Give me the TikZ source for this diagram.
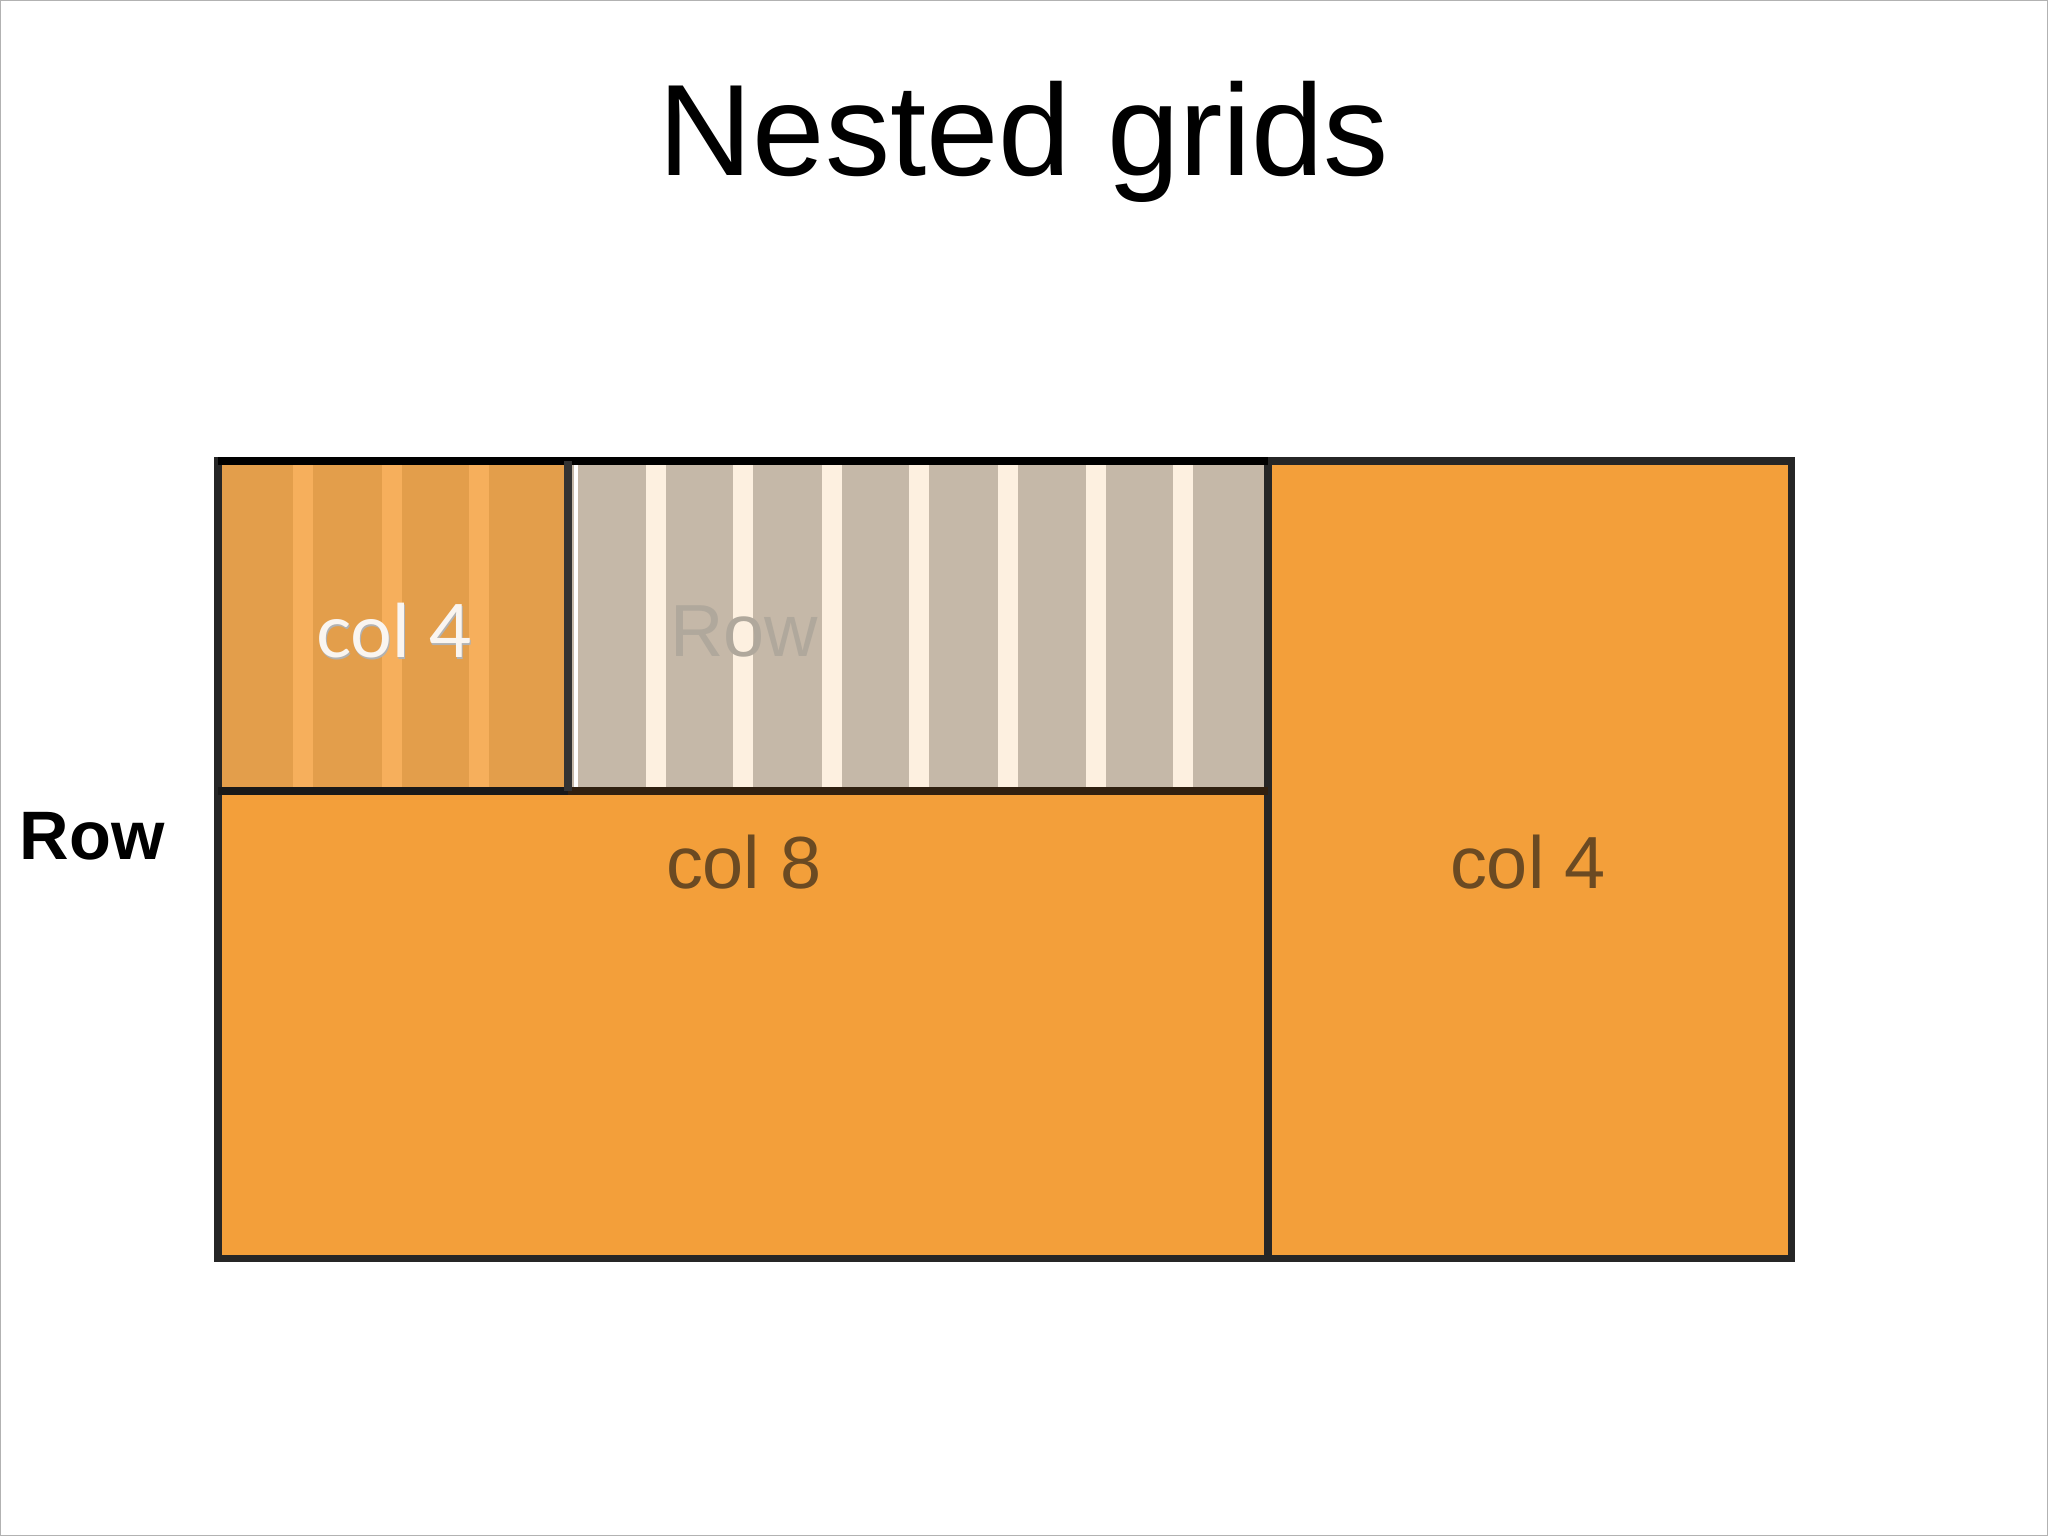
\documentclass[tikz,border=0pt]{standalone}
\usepackage{fontspec}
\setmainfont{Liberation Sans}
\newfontfamily\latofont{Lato}
\definecolor{org}{HTML}{F39F3A}
\definecolor{orgdark}{HTML}{E39E4B}
\definecolor{orglight}{HTML}{F6AF5C}
\definecolor{graybox}{HTML}{C5B8A8}
\definecolor{graystripe}{HTML}{FDF0E0}
\definecolor{txtbrown}{HTML}{6B4A22}
\definecolor{rowgray}{HTML}{B0A89C}
\begin{document}
\begin{tikzpicture}[x=0.01cm,y=-0.01cm,
  frame/.style={draw=black!85,line width=2pt},
  lbl/.style={font=\fontsize{21}{24}\selectfont, text=txtbrown}]
\useasboundingbox (0,0) rectangle (2048,1536);
\draw[gray!60,line width=0.6pt] (0,0) rectangle (2048,1536);
\node (title) at (1024,142) {\fontsize{37}{42}\selectfont Nested grids};
\node (rowlbl) at (92,836) {\fontsize{19.5}{22}\selectfont\bfseries Row};
% main orange areas
\fill[org] (218,461) rectangle (1791,1258);
% top-left col 4
\fill[orgdark] (218,461) rectangle (568,791);
\foreach \x in {303,392,479} \fill[orglight] (\x-10,461) rectangle (\x+10,791);
% gray row
\fill[graybox] (568,461) rectangle (1268,791);
\foreach \x in {656,743,832,919,1008,1096,1183} \fill[graystripe] (\x-10,461) rectangle (\x+10,791);
\draw[white,line width=1.2pt] (576,465) -- (576,787);
% borders
\draw[frame] (218,461) rectangle (1791,1258);
\draw[frame] (1268,461) -- (1268,1258);
\draw[black,line width=2.2pt] (218,461) -- (1268,461);
\draw[black!90,line width=2pt] (218,791) -- (568,791);
\draw[black!75!brown,line width=2pt] (568,791) -- (1268,791);
\draw[black!80,line width=2pt] (568,461) -- (568,791);
% labels
\node[lbl] (c8) at (744,862) {col 8};
\node[lbl] (c4r) at (1528,862) {col 4};
\node[text=black!30,font=\latofont\fontsize{21}{24}\selectfont] at (395,633) {col 4};
\node[text=white!92!brown,font=\latofont\fontsize{21}{24}\selectfont] (c4l) at (394,631) {col 4};
\node[text=rowgray,font=\fontsize{21}{24}\selectfont] (rowin) at (744,631) {Row};
\end{tikzpicture}
\end{document}
